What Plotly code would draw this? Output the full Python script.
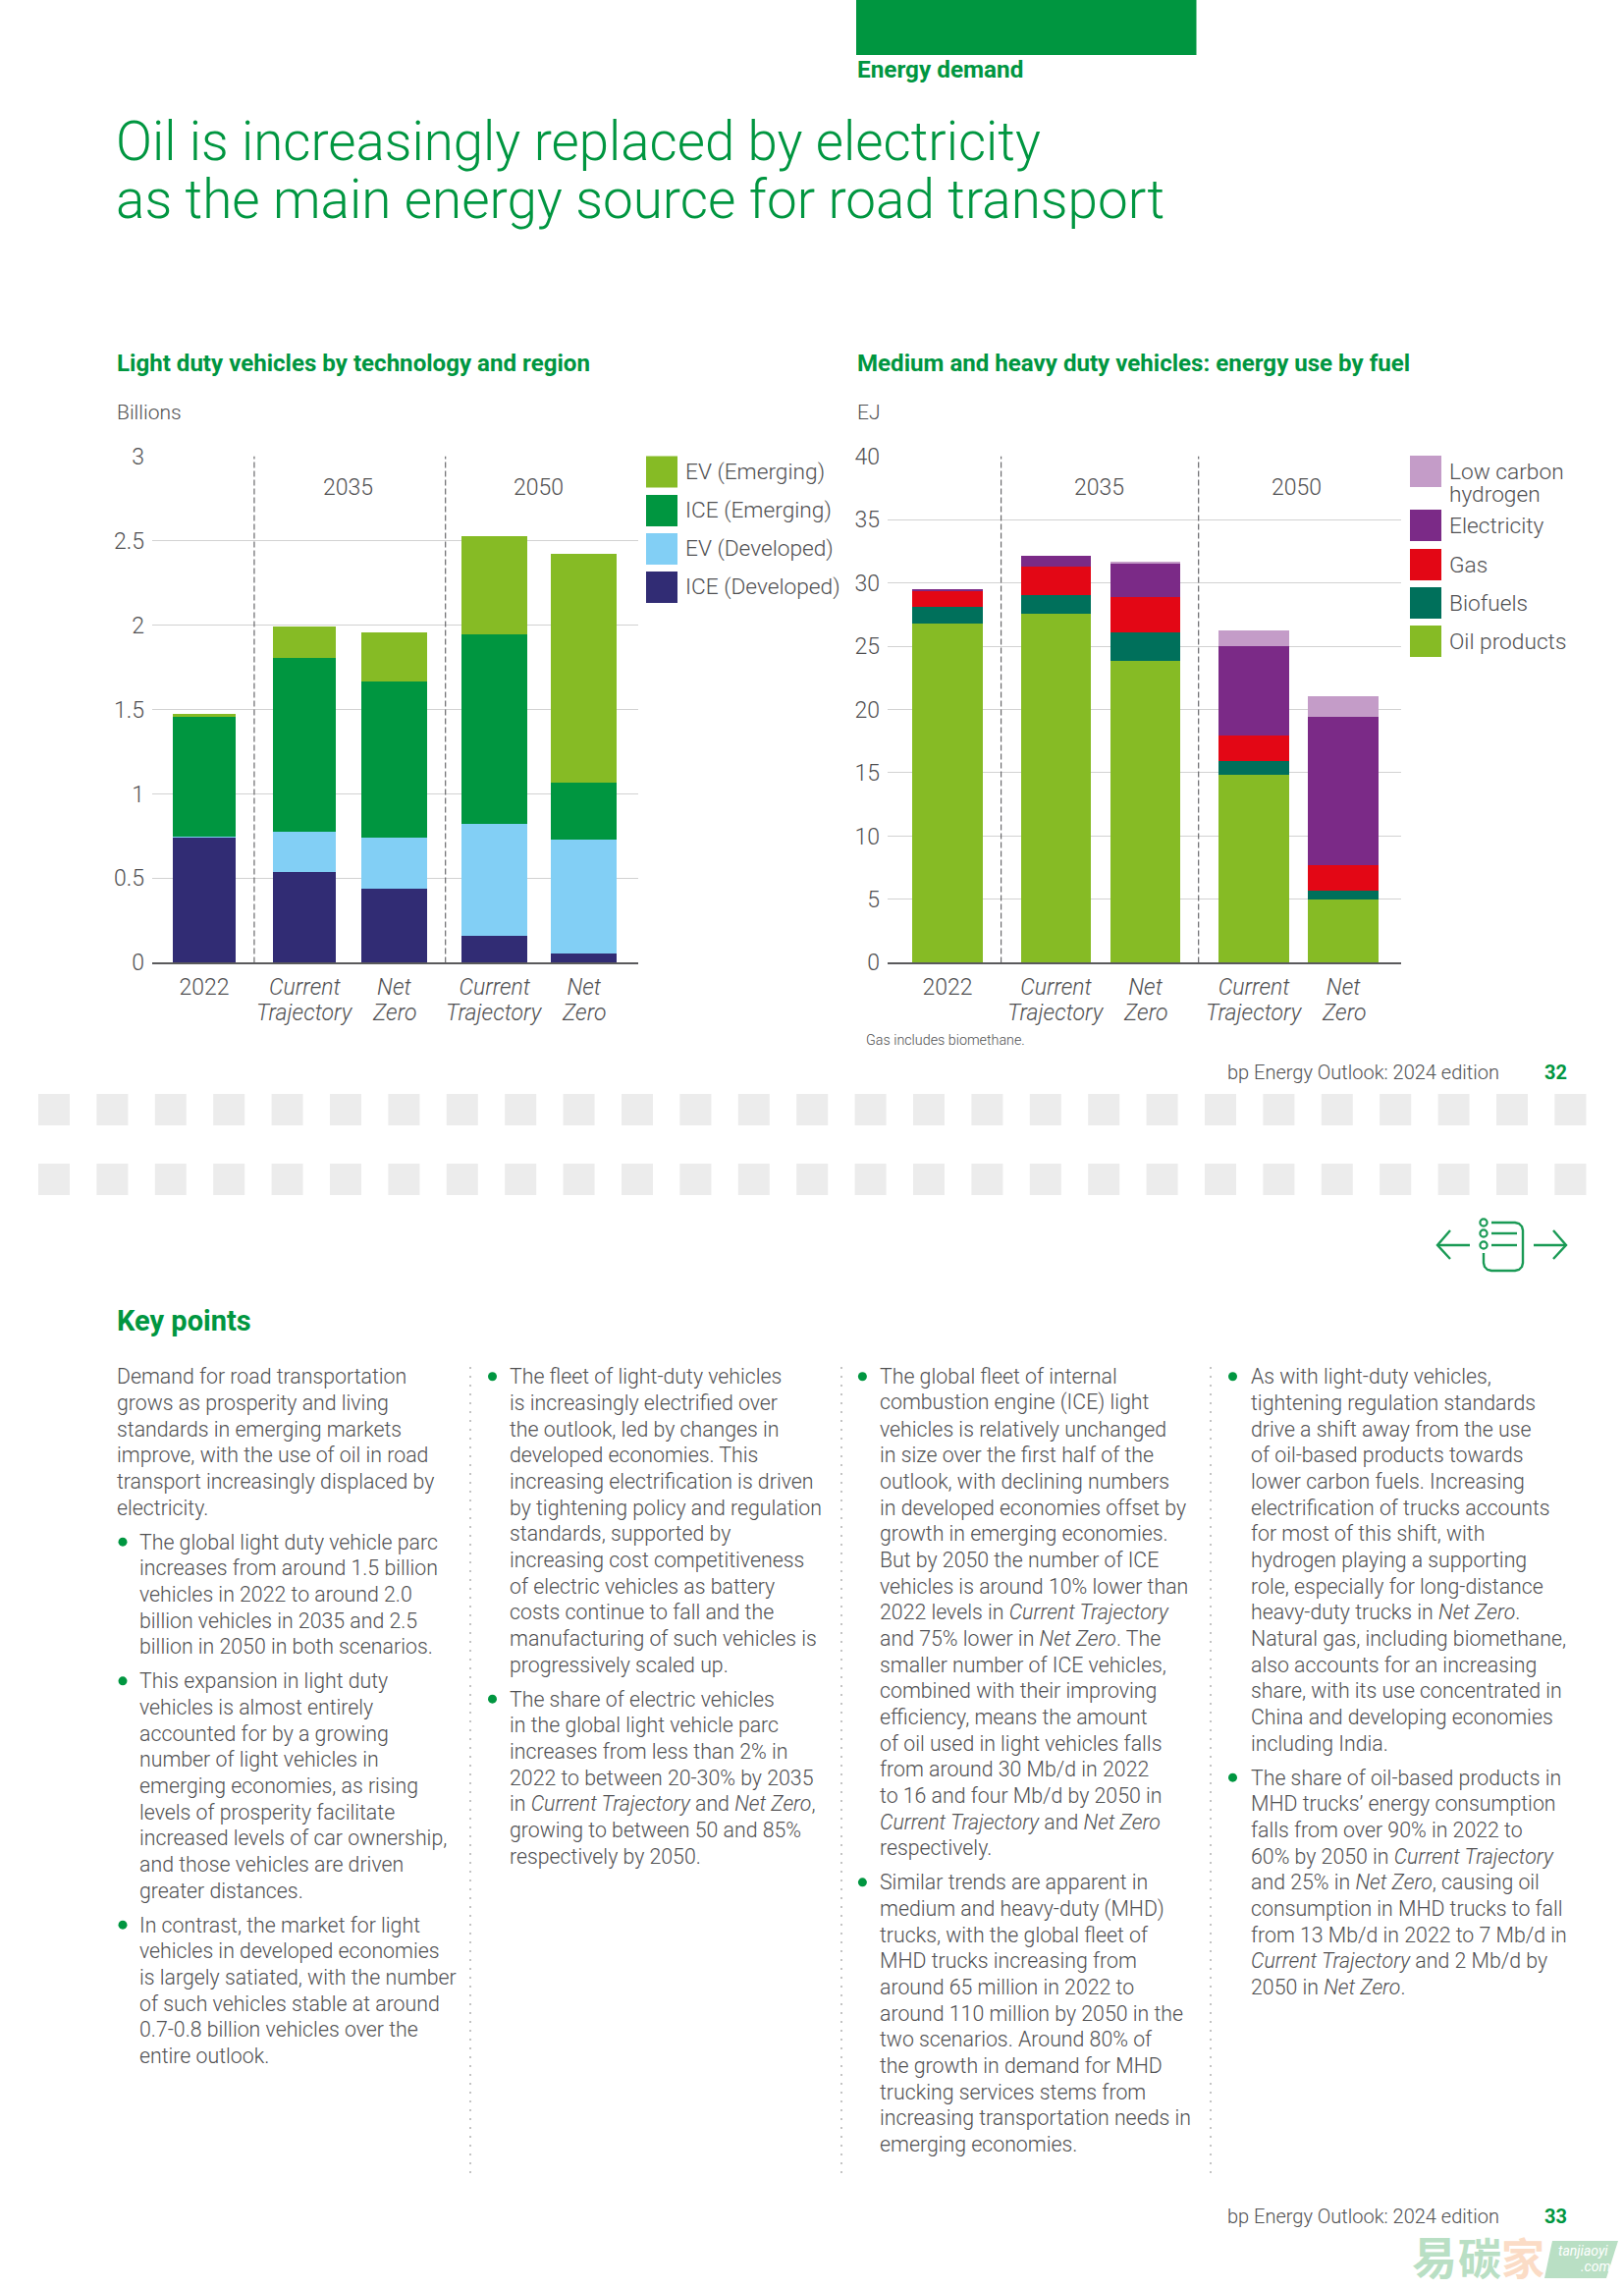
import plotly.graph_objects as go

W, H = 1654, 2331
GREEN = "#009640"
TEXT = "#505052"
GRID = "#d2d2d2"
AXIS = "#5a5a5c"
FONT = "Roboto"

# ---------- data ----------
tick_first_lines = ["2022", "<i>Current</i>", "<i>Net</i>", "<i>Current</i>", "<i>Net</i>"]
tick_second_lines = ["", "<i>Trajectory</i>", "<i>Zero</i>", "<i>Trajectory</i>", "<i>Zero</i>"]
groups = [0, 1, 1, 2, 2]
ice_developed = [0.744, 0.538, 0.439, 0.159, 0.055]
ev_developed = [0.004, 0.239, 0.302, 0.664, 0.675]
ice_emerging = [0.715, 1.029, 0.925, 1.123, 0.338]
ev_emerging = [0.011, 0.190, 0.291, 0.582, 1.359]

oil_products = [26.85, 27.6, 23.84, 14.89, 5.01]
biofuels = [1.31, 1.5, 2.31, 1.08, 0.74]
gas = [1.27, 2.2, 2.78, 2.0, 1.96]
electricity = [0.07, 0.83, 2.58, 7.1, 11.77]
low_carbon_hydrogen = [0, 0, 0.16, 1.23, 1.62]

ldv_colors = {"ICE (Developed)": "#312C74", "EV (Developed)": "#82CFF5", "ICE (Emerging)": "#009640", "EV (Emerging)": "#86BB25"}
mhd_colors = {"Oil products": "#86BB25", "Biofuels": "#00705B", "Gas": "#E30715", "Electricity": "#7B2A87", "Low carbon hydrogen": "#C49CC8"}

title_lines = ["Oil is increasingly replaced by electricity", "as the main energy source for road transport"]

intro = ["Demand for road transportation", "grows as prosperity and living", "standards in emerging markets",
         "improve, with the use of oil in road", "transport increasingly displaced by", "electricity."]
col1_b1 = ["The global light duty vehicle parc", "increases from around 1.5 billion", "vehicles in 2022 to around 2.0",
           "billion vehicles in 2035 and 2.5", "billion in 2050 in both scenarios."]
col1_b2 = ["This expansion in light duty", "vehicles is almost entirely", "accounted for by a growing",
           "number of light vehicles in", "emerging economies, as rising", "levels of prosperity facilitate",
           "increased levels of car ownership,", "and those vehicles are driven", "greater distances."]
col1_b3 = ["In contrast, the market for light", "vehicles in developed economies", "is largely satiated, with the number",
           "of such vehicles stable at around", "0.7-0.8 billion vehicles over the", "entire outlook."]
col2_b1 = ["The fleet of light-duty vehicles", "is increasingly electrified over", "the outlook, led by changes in",
           "developed economies. This", "increasing electrification is driven", "by tightening policy and regulation",
           "standards, supported by", "increasing cost competitiveness", "of electric vehicles as battery",
           "costs continue to fall and the", "manufacturing of such vehicles is", "progressively scaled up."]
col2_b2 = ["The share of electric vehicles", "in the global light vehicle parc", "increases from less than 2% in",
           "2022 to between 20-30% by 2035", "in <i>Current Trajectory</i> and <i>Net Zero</i>,",
           "growing to between 50 and 85%", "respectively by 2050."]
col3_b1 = ["The global fleet of internal", "combustion engine (ICE) light", "vehicles is relatively unchanged",
           "in size over the first half of the", "outlook, with declining numbers", "in developed economies offset by",
           "growth in emerging economies.", "But by 2050 the number of ICE", "vehicles is around 10% lower than",
           "2022 levels in <i>Current Trajectory</i>", "and 75% lower in <i>Net Zero</i>. The",
           "smaller number of ICE vehicles,", "combined with their improving", "efficiency, means the amount",
           "of oil used in light vehicles falls", "from around 30 Mb/d in 2022", "to 16 and four Mb/d by 2050 in",
           "<i>Current Trajectory</i> and <i>Net Zero</i>", "respectively."]
col3_b2 = ["Similar trends are apparent in", "medium and heavy-duty (MHD)", "trucks, with the global fleet of",
           "MHD trucks increasing from", "around 65 million in 2022 to", "around 110 million by 2050 in the",
           "two scenarios. Around 80% of", "the growth in demand for MHD", "trucking services stems from",
           "increasing transportation needs in", "emerging economies."]
col4_b1 = ["As with light-duty vehicles,", "tightening regulation standards", "drive a shift away from the use",
           "of oil-based products towards", "lower carbon fuels. Increasing", "electrification of trucks accounts",
           "for most of this shift, with", "hydrogen playing a supporting", "role, especially for long-distance",
           "heavy-duty trucks in <i>Net Zero</i>.", "Natural gas, including biomethane,",
           "also accounts for an increasing", "share, with its use concentrated in",
           "China and developing economies", "including India."]
col4_b2 = ["The share of oil-based products in", "MHD trucks\u2019 energy consumption", "falls from over 90% in 2022 to",
           "60% by 2050 in <i>Current Trajectory</i>", "and 25% in <i>Net Zero</i>, causing oil",
           "consumption in MHD trucks to fall", "from 13 Mb/d in 2022 to 7 Mb/d in",
           "<i>Current Trajectory</i> and 2 Mb/d by", "2050 in <i>Net Zero</i>."]

# ---------- helpers ----------
px = lambda x: x / W
py = lambda y: 1 - y / H
annotations, shapes = [], []


def text(x, y, s, size=21.3, color=TEXT, weight=300, anchor="left", family=FONT):
    annotations.append(dict(text=s, x=px(x), y=py(y), xref="paper", yref="paper", showarrow=False,
                            xanchor=anchor, yanchor="middle", align=anchor, borderpad=0,
                            font=dict(family=family, size=size, color=color, weight=weight)))


def rect(x0, y0, x1, y1, color):
    shapes.append(dict(type="rect", xref="paper", yref="paper", x0=px(x0), x1=px(x1), y0=py(y0), y1=py(y1),
                       fillcolor=color, line=dict(width=0), layer="below"))


def circle(cx, cy, r, fill, line=None, lw=0):
    shapes.append(dict(type="circle", xref="paper", yref="paper", x0=px(cx - r), x1=px(cx + r),
                       y0=py(cy - r), y1=py(cy + r), fillcolor=fill,
                       line=dict(width=lw, color=line or fill)))


def seg(x0, y0, x1, y1, color, width=1.0, dash="solid"):
    shapes.append(dict(type="line", xref="paper", yref="paper", x0=px(x0), x1=px(x1), y0=py(y0), y1=py(y1),
                       line=dict(color=color, width=width, dash=dash)))


def path(points, color, width=2.4, close=False, fill=None):
    d = "M " + " L ".join(f"{px(a):.5f},{py(b):.5f}" for a, b in points) + (" Z" if close else "")
    shapes.append(dict(type="path", xref="paper", yref="paper", path=d,
                       fillcolor=fill if fill else "rgba(0,0,0,0)",
                       line=dict(color=color, width=width)))


fig = go.Figure()

# ---------- charts ----------
GAP1, GAP2 = 0.125, 0.215
x1_pos = [i + GAP1 * g for i, g in enumerate(groups)]
x2_pos = [i + GAP2 * g for i, g in enumerate(groups)]
ldv_widths = [0.703, 0.703, 0.736, 0.736, 0.736]
mhd_widths = [0.79] * 5

for name, vals in [("ICE (Developed)", ice_developed), ("EV (Developed)", ev_developed),
                   ("ICE (Emerging)", ice_emerging), ("EV (Emerging)", ev_emerging)]:
    fig.add_trace(go.Bar(x=x1_pos, y=vals, name=name, width=ldv_widths, marker=dict(color=ldv_colors[name], line=dict(width=0)),
                         xaxis="x", yaxis="y", showlegend=False))

for name, vals in [("Oil products", oil_products), ("Biofuels", biofuels), ("Gas", gas),
                   ("Electricity", electricity), ("Low carbon hydrogen", low_carbon_hydrogen)]:
    fig.add_trace(go.Bar(x=x2_pos, y=vals, name=name, width=mhd_widths, marker=dict(color=mhd_colors[name], line=dict(width=0)),
                         xaxis="x2", yaxis="y2", showlegend=False))

TOP, BOT = 464.6, 980.4
ydom = [py(BOT), py(TOP)]
tickfont = dict(family=FONT, size=23, color=TEXT, weight=300)


def xaxis(domain, rng, pos, anchor):
    return dict(domain=domain, range=rng, tickmode="array", tickvals=pos, ticktext=tick_first_lines, anchor=anchor,
                showgrid=False, zeroline=False, showline=True, linecolor=AXIS, linewidth=2, ticks="", tickfont=tickfont,
                ticklabelstandoff=3, tickangle=0, fixedrange=True, automargin=False)


def yaxis(rng, dtick, anchor):
    return dict(domain=ydom, range=rng, dtick=dtick, anchor=anchor, showgrid=True, gridcolor=GRID, gridwidth=1.2,
                zeroline=False, showline=False, ticks="", tickfont=tickfont, ticklabelstandoff=7, fixedrange=True,
                automargin=False)


x1_range = [-0.582, 4.857]
x2_range = [-0.67, 5.077]
seps1 = [0.56, 2.70]
seps2 = [0.60, 2.81]

for xr, yr, seps, ymax in [("x", "y", seps1, 3), ("x2", "y2", seps2, 40)]:
    for sx in seps:
        shapes.append(dict(type="line", xref=xr, yref=yr, x0=sx, x1=sx, y0=0, y1=ymax,
                           line=dict(color="#69696c", width=1.2, dash="6px,3px")))

# second lines of the scenario tick labels sit on the same axis positions
for xr, positions in [("x", x1_pos), ("x2", x2_pos)]:
    for xv, s in zip(positions, tick_second_lines):
        if s:
            annotations.append(dict(text=s, x=xv, y=py(1031), xref=xr, yref="paper", showarrow=False,
                                    xanchor="center", yanchor="middle", borderpad=0,
                                    font=dict(family=FONT, size=23, color=TEXT, weight=300)))

# group labels
for x, s in [(354, "2035"), (548, "2050"), (1119, "2035"), (1320, "2050")]:
    text(x, 496.5, s, size=23, anchor="center")

# legends
for (name, color), y0 in zip(reversed(list(ldv_colors.items())), [464.6, 504, 543, 582]):
    rect(658, y0, 690, y0 + 32, color)
    text(696.5, y0 + 15.5, name, size=22.7)
for (name, color), y0 in zip(reversed(list(mhd_colors.items())), [464, 519, 559, 598, 637]):
    rect(1436, y0, 1468, y0 + 32, color)
    if name == "Low carbon hydrogen":
        text(1475, 481, "Low carbon", size=22.7)
        text(1475, 503, "hydrogen", size=22.7)
    else:
        text(1475, y0 + 16, name, size=22.7)

# ---------- page furniture ----------
rect(872, 0, 1218.5, 56, GREEN)
text(872, 71, "Energy demand", size=24.3, color=GREEN, weight=700)
text(117, 144, title_lines[0], size=54.6, color=GREEN)
text(117, 203, title_lines[1], size=54.8, color=GREEN)
text(118, 370, "Light duty vehicles by technology and region", size=24.1, color=GREEN, weight=700)
text(872, 370, "Medium and heavy duty vehicles: energy use by fuel", size=24.1, color=GREEN, weight=700)
text(118, 420, "Billions", size=21)
text(872, 420, "EJ", size=21)
text(881, 1059, "Gas includes biomethane.", size=14.3)

for y, page in [(1092, "32"), (2257, "33")]:
    text(1249, y, "bp Energy Outlook: 2024 edition", size=20)
    text(1572, y, page, size=20, color=GREEN, weight=700)

for y0 in [1114, 1185]:
    for i in range(27):
        rect(39 + i * 59.4, y0, 39 + i * 59.4 + 32, y0 + 32, "#ececec")

# navigation icon
icon = "#1a9a55"
path([(1497, 1268), (1464, 1268)], icon)
path([(1477, 1253), (1464, 1268), (1477, 1282)], icon)
path([(1562, 1268), (1595, 1268)], icon)
path([(1582, 1253), (1595, 1268), (1582, 1282)], icon)
for cy in [1245, 1256, 1268]:
    circle(1511, cy, 3.6, "white", line=icon, lw=2.2)
path([(1519, 1245), (1543, 1245), (1547, 1246), (1550, 1249), (1551, 1253), (1551, 1286), (1550, 1290), (1547, 1293),
      (1543, 1294), (1519, 1294), (1515, 1293), (1512, 1290), (1511, 1286), (1511, 1276)], icon)
path([(1519, 1256), (1545, 1256)], icon)
path([(1519, 1268), (1545, 1268)], icon)

# body copy
text(118, 1345, "Key points", size=29, color=GREEN, weight=700)
LINE, PARA = 26.67, 35.0
columns = [
    (117.5, 140.5, 125, [(intro, False), (col1_b1, True), (col1_b2, True), (col1_b3, True)]),
    (518, 518, 501.5, [(col2_b1, True), (col2_b2, True)]),
    (895, 895, 878.4, [(col3_b1, True), (col3_b2, True)]),
    (1273, 1273, 1255.5, [(col4_b1, True), (col4_b2, True)]),
]
for tx0, tx1, bx, paras in columns:
    y = 1401.8
    for lines, bullet in paras:
        if bullet:
            circle(bx, y, 4.5, GREEN)
        for j, ln in enumerate(lines):
            text(tx1 if bullet else tx0, y + j * LINE, ln)
        y += (len(lines) - 1) * LINE + PARA
for sx in [479, 857, 1233]:
    seg(sx, 1392, sx, 2214, "#c4c4c4", width=2, dash="2px,7px")

# watermark
wm_g, wm_o = "#b9dfc4", "#fbdcc6"
text(1437, 2296, "易", size=46, color=wm_g, weight=700, family="Noto Sans CJK SC")
text(1484, 2298, "碳", size=44, color=wm_g, weight=700, family="Noto Sans CJK SC")
text(1528, 2298, "家", size=44, color=wm_o, weight=700, family="Noto Sans CJK SC")
path([(1581, 2282), (1648, 2282), (1636, 2320), (1573, 2320)], wm_g, width=0, close=True, fill=wm_g)
text(1612, 2292, "<i>tanjiaoyi</i>", size=14, color="white", weight=400, anchor="center")
text(1625, 2308, "<i>.com</i>", size=14, color="white", weight=400, anchor="center")

fig.update_layout(
    width=W, height=H, margin=dict(l=0, r=0, t=0, b=0), autosize=False,
    paper_bgcolor="white", plot_bgcolor="rgba(0,0,0,0)", barmode="stack", bargap=0,
    font=dict(family=FONT, color=TEXT),
    xaxis=xaxis([px(155), px(650)], x1_range, x1_pos, "y"),
    yaxis=yaxis([0, 3], 0.5, "x"),
    xaxis2=xaxis([px(904), px(1427)], x2_range, x2_pos, "y2"),
    yaxis2=yaxis([0, 40], 5, "x2"),
    shapes=shapes, annotations=annotations,
)
fig.write_html("out.html", config={"displayModeBar": False},
               post_script="document.body.style.margin='0';document.documentElement.style.overflow='hidden';")
